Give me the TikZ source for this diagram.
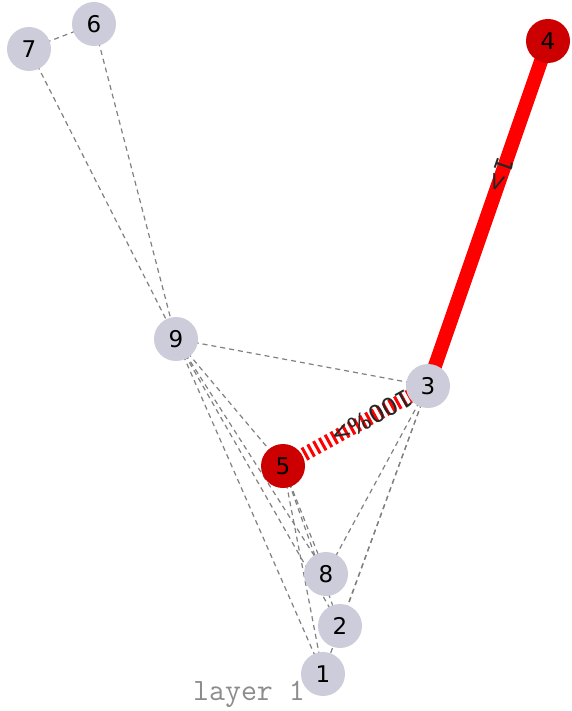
\documentclass[tikz,border=0pt]{standalone}
\usepackage{fontspec}
\setmainfont{DejaVu Sans}
\usetikzlibrary{positioning, arrows.meta}

\definecolor{nodegrey}{RGB}{204,204,218}
\definecolor{nodered}{RGB}{204,0,0}
\definecolor{edgered}{RGB}{255,0,0}

\pgfdeclarelayer{edges}
\pgfsetlayers{edges,main}

\begin{document}
\begin{tikzpicture}[
    x=1pt, y=-1pt,
    vertex/.style={
        circle,
        fill=nodegrey,
        minimum size=44pt,
        inner sep=0pt,
        font=\fontsize{23}{26}\selectfont
    },
    hot/.style={vertex, fill=nodered},
    link/.style={draw=gray, line width=1.2pt, dash pattern=on 5pt off 4pt},
    heavy/.style={draw=edgered, line width=14pt},
    hatched/.style={draw=edgered, line width=14pt, dash pattern=on 3pt off 3.6pt},
    tag/.style={font=\fontsize{24}{26}\selectfont, text=black!85, inner sep=0pt}
]

\useasboundingbox (0,0) rectangle (571,711);

\node[vertex] (n1) at (323,674) {1};
\node[vertex] (n2) at (340,626) {2};
\node[vertex] (n3) at (428,386) {3};
\node[hot] (n4) at (548,41) {4};
\node[hot] (n5) at (283,466) {5};
\node[vertex] (n6) at (94,24) {6};
\node[vertex] (n7) at (29,49) {7};
\node[vertex] (n8) at (326,574) {8};
\node[vertex] (n9) at (176,339) {9};

\node[font=\ttfamily\fontsize{31}{32}\selectfont, text=gray!90] (layer) at (249,694) {layer 1};

\begin{pgfonlayer}{edges}
\draw[link] (n7.center) -- (n6.center);
\draw[link] (n7.center) -- (n9.center);
\draw[link] (n6.center) -- (n9.center);
\draw[link] (n9.center) -- (n3.center);
\draw[link] (n9.center) -- (n5.center);
\draw[link] (n9.center) -- (n8.center);
\draw[link] (n9.center) -- (n2.center);
\draw[link] (n9.center) -- (n1.center);
\draw[link] (n5.center) -- (n8.center);
\draw[link] (n5.center) -- (n2.center);
\draw[link] (n5.center) -- (n1.center);
\draw[link] (n3.center) -- (n8.center);
\draw[link] (n3.center) -- (n2.center);
\draw[link] (n3.center) -- (n1.center);

\draw[heavy] (n4.center) -- node[tag, pos=0.39, rotate=-109.2] {1>} (n3.center);
\draw[hatched] (n3.center) -- node[tag, pos=0.39, rotate=-151.1] {100\%>} (n5.center);
\end{pgfonlayer}

\end{tikzpicture}
\end{document}
